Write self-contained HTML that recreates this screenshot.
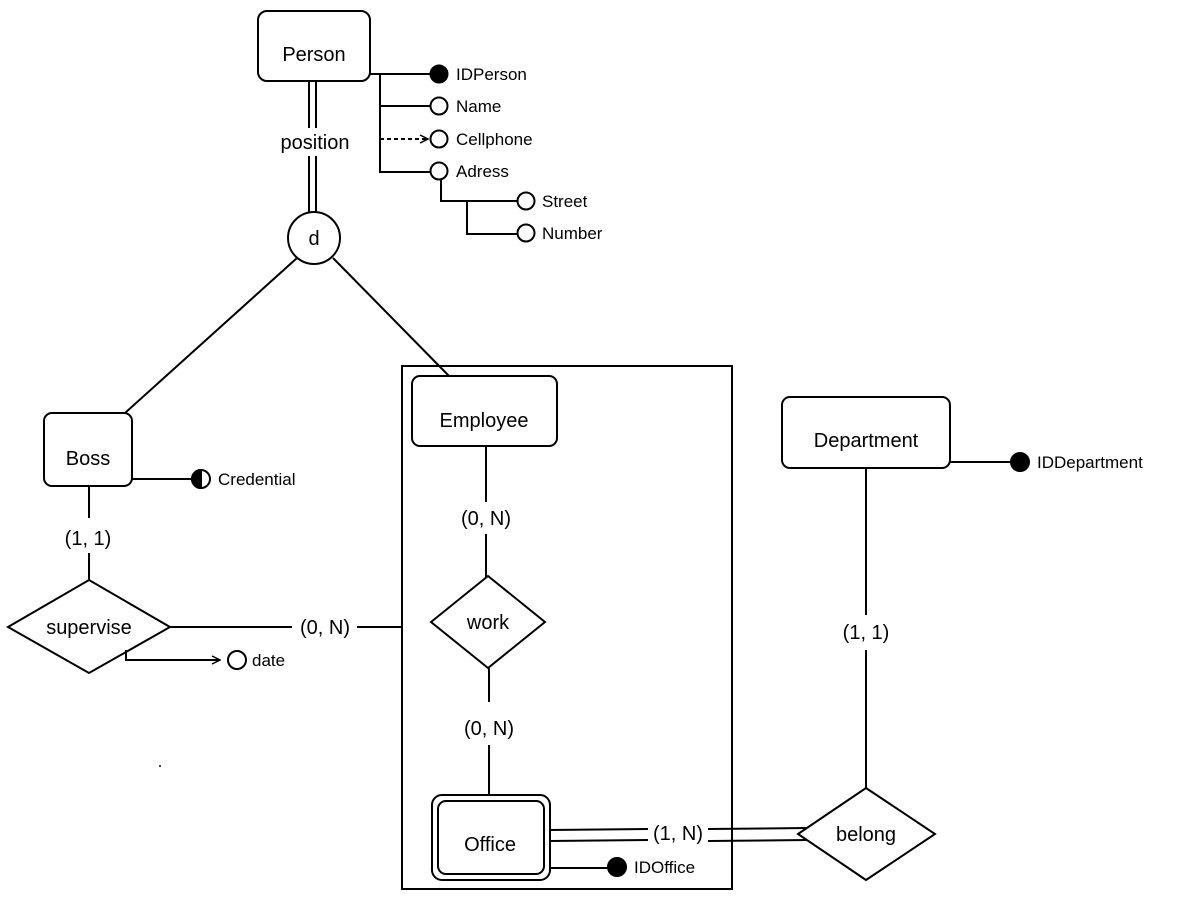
<!DOCTYPE html>
<html><head><meta charset="utf-8"><style>body{margin:0;background:#fff}svg{display:block}text{font-family:"Liberation Sans",sans-serif;fill:#000}</style></head><body>
<svg width="1198" height="900" viewBox="0 0 1198 900" xmlns="http://www.w3.org/2000/svg">
<defs><marker id="ar" markerWidth="10" markerHeight="10" refX="9" refY="5" orient="auto" markerUnits="userSpaceOnUse"><path d="M1,1 L9,5 L1,9" fill="none" stroke="#000" stroke-width="1.5"/></marker></defs>
<g stroke="#000" stroke-width="2" fill="none">
<rect x="258" y="11" width="112" height="70" rx="9" fill="#fff"/>
<line x1="309" y1="81" x2="309" y2="128"/><line x1="316" y1="81" x2="316" y2="128"/>
<line x1="309" y1="156" x2="309" y2="212"/><line x1="316" y1="156" x2="316" y2="212"/>
<circle cx="314" cy="238" r="26" fill="#fff"/>
<line x1="370" y1="74" x2="430" y2="74"/><line x1="380" y1="74" x2="380" y2="173"/>
<line x1="380" y1="106" x2="430" y2="106"/>
<line x1="380" y1="139" x2="428" y2="139" stroke-dasharray="4,3" marker-end="url(#ar)"/>
<line x1="380" y1="172" x2="430" y2="172"/>
<circle cx="439" cy="74" r="8.5" fill="#000"/>
<circle cx="439" cy="106" r="8.5" fill="#fff"/>
<circle cx="439" cy="139" r="8.5" fill="#fff"/>
<circle cx="439" cy="171" r="8.5" fill="#fff"/>
<polyline points="441,180 441,201 517,201"/><polyline points="467,201 467,234 517,234"/>
<circle cx="526" cy="201" r="8.5" fill="#fff"/><circle cx="526" cy="233" r="8.5" fill="#fff"/>
<line x1="297" y1="258" x2="125" y2="413"/><line x1="333" y1="258" x2="449" y2="376"/>
<rect x="44" y="413" width="88" height="73" rx="8" fill="#fff"/>
<line x1="132" y1="479" x2="192" y2="479"/>
<circle cx="201" cy="479" r="9" fill="#fff"/><path d="M201,470 A9,9 0 0 0 201,488 Z" fill="#000"/>
<line x1="89" y1="486" x2="89" y2="518"/><line x1="89" y1="553" x2="89" y2="580"/>
<polygon points="8,627 89,580 170,627 89,673" fill="#fff"/>
<polyline points="126,650 126,660 220,660" marker-end="url(#ar)"/>
<circle cx="237" cy="660" r="9" fill="#fff"/>
<line x1="170" y1="627" x2="292" y2="627"/><line x1="357" y1="627" x2="402" y2="627"/>
<rect x="402" y="366" width="330" height="523"/>
<rect x="412" y="376" width="145" height="70" rx="8" fill="#fff"/>
<line x1="486" y1="446" x2="486" y2="502"/><line x1="486" y1="534" x2="486" y2="577"/>
<polygon points="431,622 488,576 545,622 488,668" fill="#fff"/>
<line x1="489" y1="668" x2="489" y2="702"/><line x1="489" y1="745" x2="489" y2="795"/>
<rect x="432" y="795" width="118" height="85" rx="10" fill="#fff"/>
<rect x="438" y="801" width="106" height="73" rx="8"/>
<line x1="550" y1="830" x2="648" y2="829"/><line x1="550" y1="841" x2="648" y2="840"/>
<line x1="708" y1="829" x2="808" y2="828"/><line x1="708" y1="841" x2="808" y2="840"/>
<line x1="550" y1="868" x2="608" y2="868"/><circle cx="617" cy="867" r="9" fill="#000"/>
<polygon points="798,834 866,788 935,834 866,880" fill="#fff"/>
<rect x="782" y="397" width="168" height="71" rx="8" fill="#fff"/>
<line x1="950" y1="462" x2="1011" y2="462"/><circle cx="1020" cy="462" r="9" fill="#000"/>
<line x1="866" y1="468" x2="866" y2="615"/><line x1="866" y1="650" x2="866" y2="788"/>
</g>
<circle cx="160" cy="766" r="1" fill="#000"/>
<g font-size="20" text-anchor="middle">
<text x="314" y="61">Person</text>
<text x="315" y="149">position</text>
<text x="314" y="245">d</text>
<text x="88" y="465">Boss</text>
<text x="88" y="545">(1, 1)</text>
<text x="89" y="634">supervise</text>
<text x="325" y="634">(0, N)</text>
<text x="484" y="427">Employee</text>
<text x="486" y="525">(0, N)</text>
<text x="488" y="629">work</text>
<text x="489" y="735">(0, N)</text>
<text x="490" y="851">Office</text>
<text x="678" y="840">(1, N)</text>
<text x="866" y="841">belong</text>
<text x="866" y="447">Department</text>
<text x="866" y="639">(1, 1)</text>
</g>
<g font-size="17">
<text x="456" y="80">IDPerson</text>
<text x="456" y="112">Name</text>
<text x="456" y="145">Cellphone</text>
<text x="456" y="177">Adress</text>
<text x="542" y="207">Street</text>
<text x="542" y="239">Number</text>
<text x="218" y="485">Credential</text>
<text x="252" y="666">date</text>
<text x="634" y="873">IDOffice</text>
<text x="1037" y="468">IDDepartment</text>
</g>
</svg>
</body></html>
